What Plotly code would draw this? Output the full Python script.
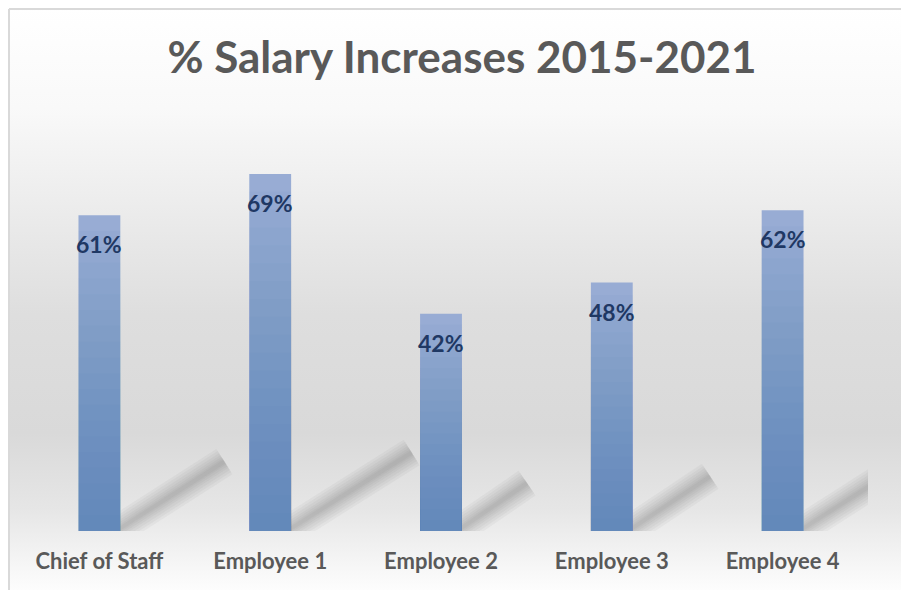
import base64
import plotly.graph_objects as go

categories = ["Chief of Staff", "Employee 1", "Employee 2", "Employee 3", "Employee 4"]
values = [0.61, 0.69, 0.42, 0.48, 0.62]
labels = ["61%", "69%", "42%", "48%", "62%"]
title_text = "% Salary Increases 2015-2021"

W, H = 909, 590
ML, MR, MT, MB = 6, 49, 109, 67
PW, PH = W - ML - MR, H - MT - MB

FONT = "Lato"

# background gradient as svg image
svg = (
    '<svg xmlns="http://www.w3.org/2000/svg" width="100" height="100" preserveAspectRatio="none">'
    '<defs><linearGradient id="g" x1="0" y1="0" x2="0" y2="1">'
    '<stop offset="0" stop-color="#ffffff"/>'
    '<stop offset="0.17" stop-color="#f9f9f9"/>'
    '<stop offset="0.35" stop-color="#ebebeb"/>'
    '<stop offset="0.52" stop-color="#dedede"/>'
    '<stop offset="0.72" stop-color="#d9d9d9"/>'
    '<stop offset="0.85" stop-color="#e6e6e6"/>'
    '<stop offset="0.95" stop-color="#f7f7f7"/>'
    '<stop offset="1" stop-color="#ffffff"/>'
    '</linearGradient></defs>'
    '<rect x="0" y="0" width="100" height="100" fill="url(#g)"/></svg>'
)
src = "data:image/svg+xml;base64," + base64.b64encode(svg.encode()).decode()

fig = go.Figure()

# base bar (light top colour)
fig.add_trace(go.Bar(
    x=categories, y=values, marker=dict(color="rgb(152,172,212)", line=dict(width=0)),
    hoverinfo="skip", showlegend=False,
))
# gradient layers (darken toward the bottom)
N = 20
for i in range(1, N):
    f = 1 - i / N
    fig.add_trace(go.Bar(
        x=categories, y=[v * f for v in values],
        marker=dict(color="rgb(60,100,170)", opacity=0.034, line=dict(width=0)),
        hoverinfo="skip", showlegend=False,
    ))

for c, v, t in zip(categories, values, labels):
    fig.add_annotation(
        x=c, y=v, text=f"<b>{t}</b>", showarrow=False, yanchor="middle",
        yshift=-29, font=dict(family=FONT, size=23, color="#1f3864"),
    )

shapes = [
    dict(type="line", xref="paper", yref="paper",
         x0=(1 - ML) / PW, x1=(W + 5 - ML) / PW, y0=1 + (MT - 1) / PH, y1=1 + (MT - 1) / PH,
         line=dict(color="#d9d9d9", width=2)),
    dict(type="line", xref="paper", yref="paper",
         x0=(1 - ML) / PW, x1=(1 - ML) / PW, y0=1 + (MT - 1) / PH, y1=-(MB + 5) / PH,
         line=dict(color="#d9d9d9", width=2)),
]
# soft diagonal shadows behind each bar
for i, v in enumerate(values):
    for w in (30, 25, 20, 15, 11, 7, 4):
        shapes.append(dict(
            type="line", xref="x", yref="y", layer="below",
            x0=i + 0.05, y0=-0.01, x1=i + 1.2 * v, y1=0.22 * v,
            line=dict(color="rgba(110,110,110,0.06)", width=w),
        ))

fig.update_layout(
    width=W, height=H,
    margin=dict(l=ML, r=MR, t=MT, b=MB, pad=0),
    barmode="overlay", bargap=0.755,
    paper_bgcolor="white", plot_bgcolor="rgba(0,0,0,0)",
    title=dict(text=f"<b>{title_text}</b>", x=454 / W, xanchor="center",
               y=1 - 50 / H, yanchor="middle", yref="container",
               font=dict(family=FONT, size=44, color="#595959")),
    xaxis=dict(range=[-0.5, 4.5], showgrid=False, showline=False, zeroline=False, ticks="",
               tickfont=dict(family=FONT, size=22, color="#595959", weight="bold"),
               ticklabelstandoff=15),
    yaxis=dict(range=[0, 0.8], visible=False, showgrid=False, zeroline=False),
    images=[dict(source=src, xref="paper", yref="paper",
                 x=-ML / PW, y=1 + MT / PH, sizex=W / PW, sizey=H / PH,
                 xanchor="left", yanchor="top", sizing="stretch", layer="below")],
    shapes=shapes,
)

fig.write_html("out.html")
